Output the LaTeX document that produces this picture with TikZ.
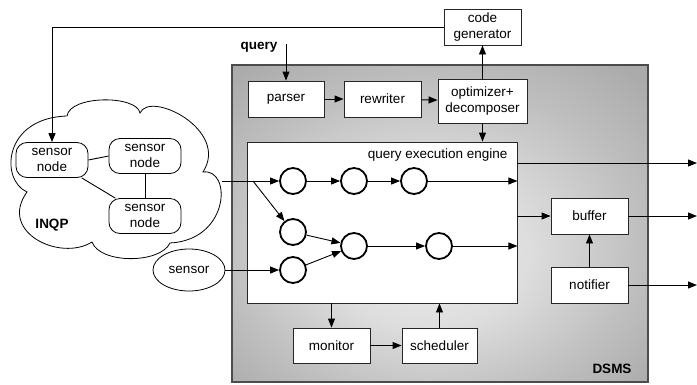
\documentclass[tikz,border=0pt]{standalone}
\usepackage{fontspec}
\setmainfont{Liberation Sans}
\usetikzlibrary{arrows.meta,shapes.geometric}
\pgfdeclareradialshading{dsmsshade}{\pgfpoint{-2bp}{-6bp}}{color(0bp)=(black!8); color(12bp)=(black!13); color(25bp)=(black!25); color(35bp)=(black!33); color(50bp)=(black!33)}
\begin{document}
\begin{tikzpicture}[x=1pt,y=-1pt,
  font=\fontsize{13.5}{16}\selectfont,
  bold/.style={font=\fontsize{13.5}{16}\selectfont\bfseries},
  box/.style={draw=black!85, line width=0.9pt, fill=white, minimum width=77pt, minimum height=36pt, inner sep=0pt, align=center},
  op/.style={circle, draw=black, line width=1.8pt, fill=white, minimum size=26pt, inner sep=0pt},
  snode/.style={draw=black, line width=0.8pt, rounded corners=11pt, fill=white, minimum width=72pt, minimum height=35pt, inner sep=0pt, align=center},
  arr/.style={-{Triangle[length=9pt,width=7pt]}, line width=0.9pt},
  ln/.style={line width=0.9pt}]
\useasboundingbox (0,0) rectangle (697,384);

% DSMS container
\node[draw=black!70, line width=1.4pt, shading=dsmsshade, minimum width=416pt, minimum height=317pt, inner sep=0pt] (dsms) at (440,223.5) {};
\node[bold] (dsmslabel) at (612,369) {DSMS};

% cloud (INQP)
\draw[line width=0.8pt] (27,192) .. controls (0,180) and (3,118) .. (67,116)
  .. controls (70,95) and (137,95) .. (140,113)
  .. controls (150,90) and (230,130) .. (203,172)
  .. controls (232,168) and (230,240) .. (170,243)
  .. controls (160,264) and (100,264) .. (92,242)
  .. controls (60,262) and (-2,232) .. cycle;
\node[bold] (inqp) at (52,225) {INQP};

\node[snode] (sn1) at (52,160) {sensor\\node};
\node[snode] (sn2) at (145,156) {sensor\\node};
\node[snode] (sn3) at (145,216) {sensor\\node};
\draw[ln] (sn1.east) -- (sn2.west);
\draw[ln] (sn1) -- (sn3);
\draw[ln] (sn2) -- (sn3);

% boxes
\node[box] (codegen) at (482.5,27) {code\\generator};
\node[box, minimum width=76pt] (parser) at (286,99) {parser};
\node[box] (rewriter) at (382.5,99) {rewriter};
\node[box, minimum width=89pt, minimum height=44pt] (optimizer) at (482.5,101) {optimizer+\\decomposer};
\node[box, minimum width=270pt, minimum height=161pt] (engine) at (382,222.5) {};
\node[anchor=east] (qeelabel) at (511,155) {query execution engine};
\node[box] (buffer) at (589.5,216) {buffer};
\node[box] (notifier) at (589.5,285) {notifier};
\node[box, minimum height=35pt] (monitor) at (331.5,345.5) {monitor};
\node[box, minimum width=75pt, minimum height=35pt] (scheduler) at (439.5,345.5) {scheduler};

% query input
\node[bold] (qlabel) at (259,47) {query};
\coordinate (qin) at (286,44);
\draw[arr] (qin) -- (parser.north);
\draw[arr] (parser) -- (rewriter);
\draw[arr] (rewriter) -- (optimizer);
\draw[arr] (optimizer.north) -- (codegen.south);
\draw[arr] (optimizer.south) -- (optimizer.south |- engine.north);
\draw[arr] (codegen.west) -| (sn1.north);

% operators
\node[op] (c1) at (293,181) {};
\node[op] (c2) at (354,181) {};
\node[op] (c3) at (414,181) {};
\node[op] (c4) at (293,232) {};
\node[op] (c5) at (354,246) {};
\node[op] (c6) at (439,246) {};
\node[op] (c7) at (293,270) {};

\node[draw, ellipse, line width=0.8pt, minimum width=72pt, minimum height=42pt, inner sep=0pt] (sensor) at (189,270) {sensor};

\coordinate (cloudout) at (222,181);
\coordinate (br) at (253,181);
\draw[arr] (cloudout) -- (c1);
\draw[arr] (br) -- (c4);
\draw[arr] (sensor) -- (c7);
\draw[arr] (c1) -- (c2);
\draw[arr] (c2) -- (c3);
\draw[arr] (c4) -- (c5);
\draw[arr] (c7) -- (c5);
\draw[arr] (c5) -- (c6);
\draw[arr] (c3) -- (c3 -| engine.east);
\draw[arr] (c6) -- (c6 -| engine.east);

% outputs
\coordinate (o1) at (697,163);
\draw[arr] (engine.east |- o1) -- (o1);
\draw[arr] (engine.east |- buffer.west) -- (buffer.west);
\draw[arr] (buffer.east) -- (buffer.east -| o1);
\draw[arr] (notifier.east) -- (notifier.east -| o1);
\draw[arr] (notifier) -- (buffer);

% monitor / scheduler
\draw[arr] (engine.south -| monitor.north) -- (monitor.north);
\draw[arr] (monitor) -- (scheduler);
\draw[arr] (scheduler.north) -- (scheduler.north |- engine.south);
\end{tikzpicture}
\end{document}
